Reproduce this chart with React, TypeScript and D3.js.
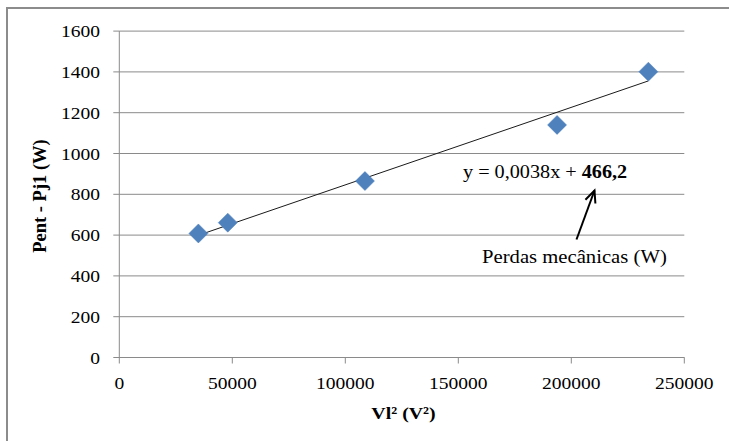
import React from "react";
import * as d3 from "d3";

// Measured points: squared line voltage vs. input power minus stator copper loss
const vlSquared = [35000, 48000, 108700, 193700, 234100];
const pentMinusPj1 = [608, 661, 865, 1140, 1401];

// Linear trend reported on the chart
const trendSlope = 0.0038;
const trendIntercept = 466.2;

const xTicks = [0, 50000, 100000, 150000, 200000, 250000];
const yTicks = [0, 200, 400, 600, 800, 1000, 1200, 1400, 1600];

const W = 729;
const H = 441;
const FONT = "'Liberation Serif', 'Times New Roman', serif";
const SX = 1.13; // horizontal glyph stretch

export default function App() {
  const x = d3.scaleLinear().domain([0, 250000]).range([119.3, 684.3]);
  const y = d3.scaleLinear().domain([0, 1600]).range([357.5, 31.1]);

  const xMin = d3.min(vlSquared) as number;
  const xMax = d3.max(vlSquared) as number;
  const trend = d3
    .line<number>()
    .x((v) => x(v))
    .y((v) => y(trendSlope * v + trendIntercept));

  const grid = "#8a8a8a";

  const diamond = (cx: number, cy: number, r: number) =>
    `M${cx},${cy - r}L${cx + r},${cy}L${cx},${cy + r}L${cx - r},${cy}Z`;

  // arrow pointing to the intercept value
  const tail: [number, number] = [576.5, 239.5];
  const tip: [number, number] = [594.5, 190.5];
  const ang = Math.atan2(tip[1] - tail[1], tip[0] - tail[0]);
  const headLen = 13;
  const spread = 0.42;
  const arm = (s: number): [number, number] => [
    tip[0] - headLen * Math.cos(ang + s),
    tip[1] - headLen * Math.sin(ang + s),
  ];
  const a1 = arm(spread);
  const a2 = arm(-spread);

  const sText = (
    tx: number,
    ty: number,
    anchor: string,
    content: React.ReactNode,
    size = 17.3,
    extra: any = {}
  ) => (
    <g transform={`translate(${tx},${ty}) scale(${SX},1)`}>
      <text x={0} y={0} textAnchor={anchor} fontFamily={FONT} fontSize={size} fill="#000" {...extra}>
        {content}
      </text>
    </g>
  );

  return (
    <svg
      width={W}
      height={H}
      style={{ position: "absolute", left: 0, top: 0, background: "#fff" }}
    >
      <rect x={0} y={0} width={W} height={H} fill="#fff" />
      {/* chart frame */}
      <path d={`M7,${H}L7,8L${W},8`} fill="none" stroke="#8c8c8c" strokeWidth={2} />

      {/* horizontal gridlines */}
      {yTicks.map((t) => (
        <line key={`g${t}`} x1={x(0)} x2={x(250000)} y1={y(t)} y2={y(t)} stroke={grid} strokeWidth={1} />
      ))}
      {/* y axis */}
      <line x1={x(0)} x2={x(0)} y1={y(1600)} y2={y(0)} stroke={grid} strokeWidth={1} />
      {yTicks.map((t) => (
        <line key={`yt${t}`} x1={x(0) - 6} x2={x(0)} y1={y(t)} y2={y(t)} stroke={grid} strokeWidth={1} />
      ))}
      {/* x axis */}
      <line x1={x(0)} x2={x(250000)} y1={y(0)} y2={y(0)} stroke={grid} strokeWidth={1} />
      {xTicks.map((t) => (
        <line key={`xt${t}`} x1={x(t)} x2={x(t)} y1={y(0)} y2={y(0) + 6} stroke={grid} strokeWidth={1} />
      ))}

      {/* tick labels */}
      {yTicks.map((t) => (
        <React.Fragment key={`yl${t}`}>{sText(100, y(t) + 6, "end", String(t))}</React.Fragment>
      ))}
      {xTicks.map((t) => (
        <React.Fragment key={`xl${t}`}>{sText(x(t), 389, "middle", String(t))}</React.Fragment>
      ))}

      {/* axis titles */}
      {sText(403.5, 419, "middle", "Vl² (V²)", 17.6, { fontWeight: "bold" })}
      <text
        transform={`translate(46,196) rotate(-90)`}
        textAnchor="middle"
        fontFamily={FONT}
        fontSize={18.5}
        fontWeight="bold"
        fill="#000"
      >
        Pent - Pj1 (W)
      </text>

      {/* trend line */}
      <path d={trend([xMin, xMax]) || ""} fill="none" stroke="#1a1a1a" strokeWidth={1} />

      {/* data markers */}
      {vlSquared.map((v, i) => (
        <path key={`p${i}`} d={diamond(x(v), y(pentMinusPj1[i]), 9.5)} fill="#4F81BD" stroke="#4A7EBB" strokeWidth={0.5} />
      ))}

      {/* equation */}
      {sText(
        463,
        177.5,
        "start",
        <>
          <tspan>y = 0,0038x + </tspan>
          <tspan fontWeight="bold">466,2</tspan>
        </>,
        17.9
      )}

      {/* annotation arrow and caption */}
      <line x1={tail[0]} y1={tail[1]} x2={tip[0]} y2={tip[1]} stroke="#000" strokeWidth={2} />
      <polyline
        points={`${a1[0]},${a1[1]} ${tip[0]},${tip[1]} ${a2[0]},${a2[1]}`}
        fill="none"
        stroke="#000"
        strokeWidth={2}
      />
      {sText(482, 263, "start", "Perdas mecânicas (W)", 18.3)}
    </svg>
  );
}
